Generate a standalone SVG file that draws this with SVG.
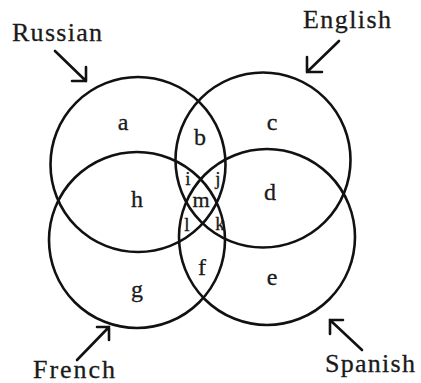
<svg xmlns="http://www.w3.org/2000/svg" width="421" height="383" viewBox="0 0 421 383">
<style>
.c{fill:none;stroke:#111;stroke-width:2.6}
.a{fill:none;stroke:#111;stroke-width:2.6;stroke-linecap:round;stroke-linejoin:miter}
.t{font-family:"Liberation Serif","Times New Roman",serif;fill:#1a1a1a;stroke:#1a1a1a;stroke-width:0.3}
.lab{font-size:26px}
.r{font-size:24px;text-anchor:middle}
.s{font-size:19px;text-anchor:middle}
</style>
<rect width="421" height="383" fill="#fff"/>
<g id="russian">
<circle class="c" cx="138" cy="164.5" r="87.5"/>
<text class="t lab" x="12" y="41" textLength="90" lengthAdjust="spacing">Russian</text>
</g>
<g id="english">
<circle class="c" cx="263" cy="160" r="87.5"/>
<text class="t lab" x="303" y="28" textLength="88" lengthAdjust="spacing">English</text>
</g>
<g id="french">
<circle class="c" cx="137" cy="240" r="88"/>
<text class="t lab" x="33" y="378" textLength="82" lengthAdjust="spacing">French</text>
</g>
<g id="spanish">
<circle class="c" cx="267" cy="237" r="88"/>
<text class="t lab" x="325" y="372" textLength="90" lengthAdjust="spacing">Spanish</text>
</g>
<g id="regions">
<text class="t r" x="123" y="130">a</text>
<text class="t r" x="200" y="145">b</text>
<text class="t r" x="272" y="130">c</text>
<text class="t r" x="270" y="200">d</text>
<text class="t r" x="272" y="285">e</text>
<text class="t r" x="202" y="275">f</text>
<text class="t r" x="137" y="297">g</text>
<text class="t r" x="137" y="207">h</text>
<text class="t s" x="188" y="185">i</text>
<text class="t s" x="218" y="185">j</text>
<text class="t s" x="220" y="230">k</text>
<text class="t s" x="187" y="231">l</text>
<text class="t r" x="201" y="207" style="font-size:22px">m</text>
</g>
<g id="connectors">
<path class="a" d="M55,51 L86,81 M72,81 L86,81 L86,67"/>
<path class="a" d="M339,41 L307,72 M307,57 L307,72 L322,72"/>
<path class="a" d="M77,360 L109,327 M97,327 L109,327 L109,340"/>
<path class="a" d="M362,350 L330,320 M343,320 L330,320 L330,334"/>
</g>
</svg>
